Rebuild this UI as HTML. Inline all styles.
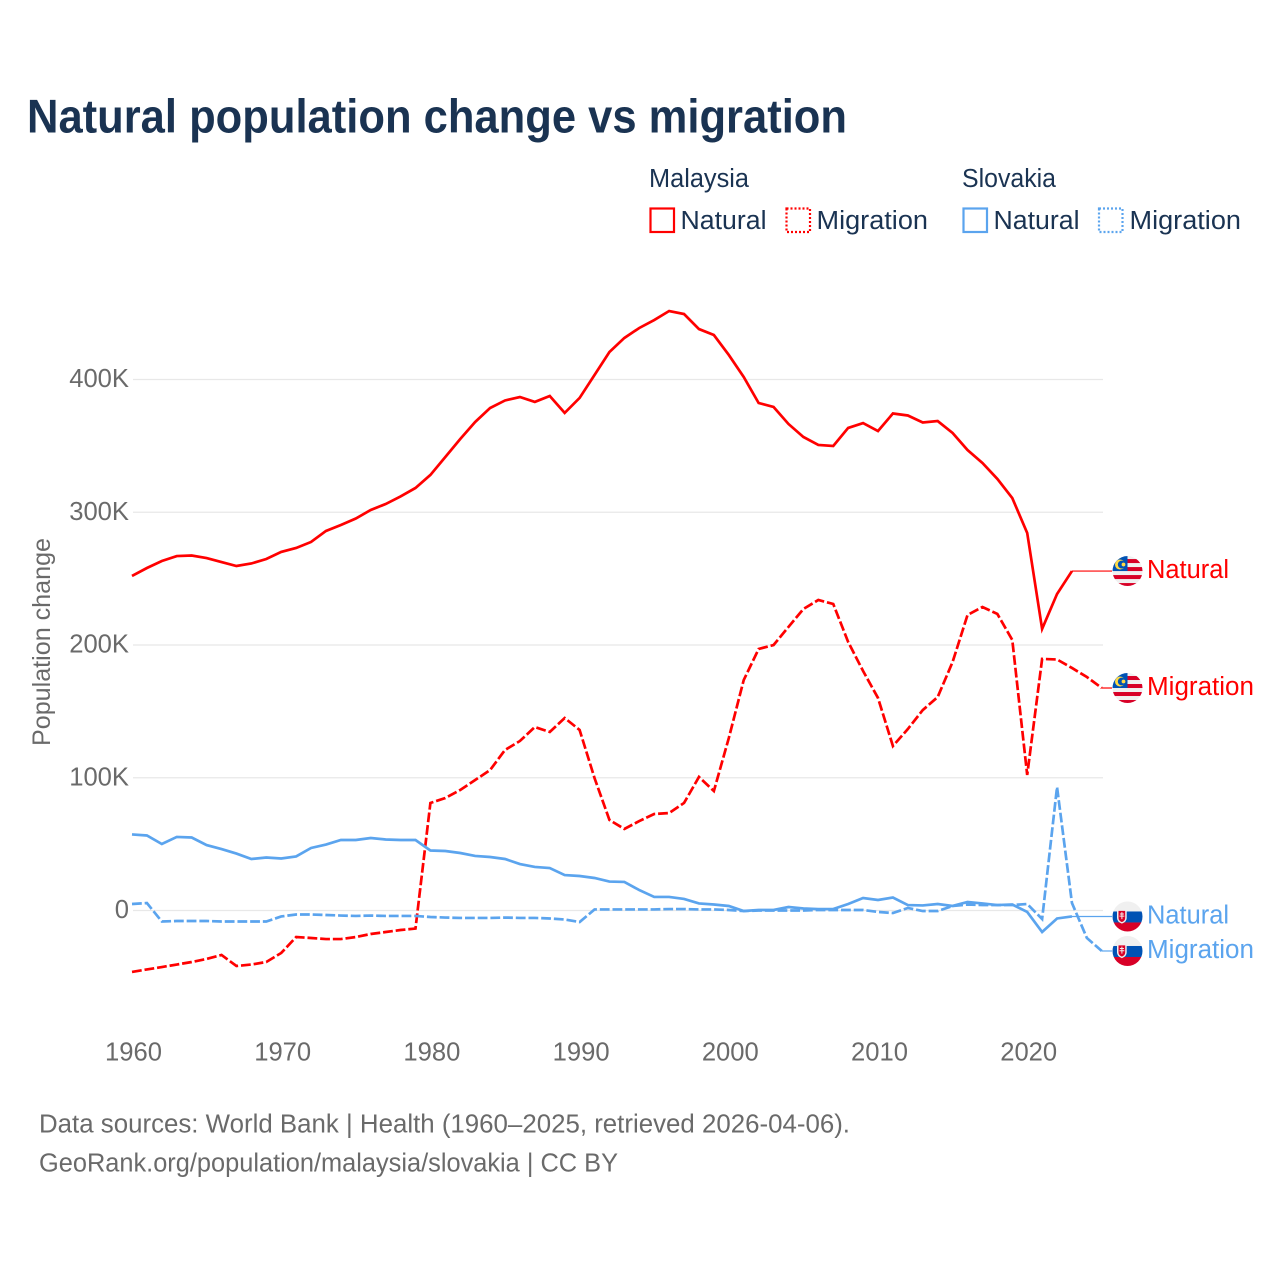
<!DOCTYPE html>
<html lang="en">
<head>
<meta charset="utf-8">
<title>Natural population change vs migration</title>
<style>
html,body{margin:0;padding:0;background:#fff;}
svg{display:block;font-family:"Liberation Sans",sans-serif;}
</style>
</head>
<body>
<svg id="chart" width="1280" height="1280" viewBox="0 0 1280 1280" xmlns="http://www.w3.org/2000/svg">
  <defs>
    <clipPath id="flag-clip"><circle cx="0" cy="0" r="15"/></clipPath>
    <g id="flag-my">
      <g clip-path="url(#flag-clip)">
        <rect x="-15" y="-15" width="30" height="30" fill="#f0f0f0"/>
        <rect x="0" y="-12" width="15" height="4" fill="#d80027"/>
        <rect x="0" y="-4" width="15" height="4" fill="#d80027"/>
        <rect x="-15" y="4" width="30" height="4" fill="#d80027"/>
        <rect x="-15" y="12" width="30" height="3" fill="#d80027"/>
        <rect x="-15" y="-15" width="15" height="15" fill="#0052b4"/>
        <circle cx="-7.5" cy="-6.5" r="5" fill="#ffda44"/>
        <circle cx="-5.8" cy="-6.5" r="3.9" fill="#0052b4"/>
        <circle cx="-4" cy="-6.5" r="1.9" fill="#ffda44"/>
      </g>
    </g>
    <g id="flag-sk">
      <g clip-path="url(#flag-clip)">
        <rect x="-15" y="-15" width="30" height="10" fill="#f0f0f0"/>
        <rect x="-15" y="-5" width="30" height="11" fill="#0052b4"/>
        <rect x="-15" y="6" width="30" height="9" fill="#d80027"/>
        <path d="M-10.5 -7 H-0.8 V1.5 Q-0.8 5.2 -5.6 7.2 Q-10.5 5.2 -10.5 1.5 Z" fill="#f0f0f0"/>
        <path d="M-9 -5.6 H-2.3 V1.5 Q-2.3 4.2 -5.6 5.6 Q-9 4.2 -9 1.5 Z" fill="#d80027"/>
        <path d="M-6.1 -4.4 H-5.1 V-3 H-3.6 V-2 H-5.1 V-0.8 H-3.2 V0.2 H-5.1 V2.6 H-6.1 V0.2 H-8 V-0.8 H-6.1 V-2 H-7.6 V-3 H-6.1 Z" fill="#f0f0f0"/>
      </g>
    </g>
  </defs>

  <text x="27" y="132.5" font-size="47" font-weight="700" fill="#1a3352" textLength="820" lengthAdjust="spacingAndGlyphs">Natural population change vs migration</text>

  <g font-size="25.5" fill="#1a3352">
    <text x="649" y="187" textLength="100" lengthAdjust="spacingAndGlyphs">Malaysia</text>
    <text x="962" y="187" textLength="94" lengthAdjust="spacingAndGlyphs">Slovakia</text>
    <rect x="650.5" y="208.5" width="23.5" height="23.5" fill="none" stroke="#ff0000" stroke-width="2.2"/>
    <text x="680.5" y="229" textLength="86" lengthAdjust="spacingAndGlyphs">Natural</text>
    <rect x="786.5" y="208.5" width="23.5" height="23.5" fill="none" stroke="#ff0000" stroke-width="2.2" stroke-dasharray="2 2"/>
    <text x="816.5" y="229" textLength="111.5" lengthAdjust="spacingAndGlyphs">Migration</text>
    <rect x="963.5" y="208.5" width="23.5" height="23.5" fill="none" stroke="#5ba4ee" stroke-width="2.2"/>
    <text x="993.5" y="229" textLength="86" lengthAdjust="spacingAndGlyphs">Natural</text>
    <rect x="1099" y="208.5" width="23.5" height="23.5" fill="none" stroke="#5ba4ee" stroke-width="2.2" stroke-dasharray="2 2"/>
    <text x="1129.5" y="229" textLength="111.5" lengthAdjust="spacingAndGlyphs">Migration</text>
  </g>

  <g id="grid"></g>
  <g id="y-ticks" font-size="25.6" fill="#6a6a6a" text-anchor="end"></g>
  <g id="x-ticks" font-size="25.6" fill="#6a6a6a" text-anchor="middle"></g>
  <text transform="translate(50 642) rotate(-90)" text-anchor="middle" font-size="25" fill="#6a6a6a" textLength="208" lengthAdjust="spacingAndGlyphs">Population change</text>

  <g id="series"></g>
  <g id="end-labels" font-size="25.5"></g>

  <g font-size="25.5" fill="#6a6a6a">
    <text x="39" y="1132.5" textLength="811" lengthAdjust="spacingAndGlyphs">Data sources: World Bank | Health (1960–2025, retrieved 2026-04-06).</text>
    <text x="39" y="1171.5" textLength="579" lengthAdjust="spacingAndGlyphs">GeoRank.org/population/malaysia/slovakia | CC BY</text>
  </g>
</svg>

<script>
const startYear = 1960;
const xTickYears = [1960, 1970, 1980, 1990, 2000, 2010, 2020];
const yTickValues = [0, 100, 200, 300, 400];
const yTickLabels = ["0", "100K", "200K", "300K", "400K"];

const malaysiaNatural = [252.0,258.0,263.3,267.0,267.4,265.5,262.5,259.5,261.4,264.8,270.1,273.1,277.6,285.9,290.4,295.3,301.7,306.2,311.9,318.3,328.1,341.6,355.2,368.0,378.5,384.2,386.8,383.1,387.6,374.8,386.1,403.4,420.7,431.3,438.8,444.8,451.6,449.3,438.0,433.5,418.5,401.9,382.3,379.3,366.5,356.7,350.7,349.9,363.5,367.2,361.2,374.4,372.9,367.6,368.7,359.7,346.9,337.1,325.1,310.7,284.4,212.1,238.4,255.7];
const malaysiaMigration = [-46.3,-44.4,-42.6,-40.7,-38.8,-36.5,-33.5,-41.8,-40.7,-38.8,-32.0,-20.0,-20.7,-21.5,-21.5,-20.0,-17.7,-16.2,-14.7,-13.6,81.0,84.7,90.8,98.3,105.8,120.9,127.7,138.2,134.5,145.0,136.0,99.8,68.2,61.4,67.4,72.7,73.4,81.0,100.6,90.0,129.9,173.6,197.0,200.0,213.6,227.1,233.9,230.9,202.3,180.4,160.1,123.9,136.7,151.0,160.8,187.2,222.6,228.6,223.4,203.8,102.1,189.5,189.1,182.7,175.9,167.6];
const slovakiaNatural = [57.3,56.5,50.1,55.4,55.0,49.3,46.3,42.9,38.8,39.9,39.2,40.7,47.1,49.7,53.1,53.1,54.6,53.5,53.1,53.1,45.2,44.8,43.3,41.1,40.3,38.8,35.0,32.8,32.0,26.7,26.0,24.5,21.8,21.5,15.4,10.2,10.2,8.7,5.3,4.5,3.4,-0.4,0.4,0.4,2.6,1.5,1.1,1.1,4.9,9.4,7.9,9.8,4.1,3.8,4.9,3.4,6.4,5.3,4.1,4.5,-1.1,-16.2,-6.0,-4.5];
const slovakiaMigration = [4.9,5.6,-8.3,-7.9,-7.9,-7.9,-8.3,-8.3,-8.3,-8.3,-4.5,-3.0,-3.0,-3.4,-3.8,-4.1,-3.8,-4.1,-4.1,-4.1,-4.9,-5.3,-5.6,-5.6,-5.6,-5.3,-5.6,-5.6,-6.0,-6.8,-8.7,0.8,0.8,0.8,0.8,0.8,1.1,1.1,0.8,0.8,0.4,-0.4,0,0,0,0,0.4,0.4,0.4,0.4,-1.1,-1.9,1.9,-0.4,-0.4,3.4,4.5,4.1,4.1,4.1,4.9,-6.4,93.0,5.6,-20.7,-30.5];

const SVG_NS = "http://www.w3.org/2000/svg";
const RED = "#ff0000";
const BLUE = "#5ba4ee";
const xTick = year => 133.5 + (year - 1960) * 14.92;
const x = year => 132 + (year - 1960) * 14.92;
const y = v => 910.5 - v * 1.3275;
const make = (tag, parent) => {
  const el = document.createElementNS(SVG_NS, tag);
  parent.appendChild(el);
  return el;
};

const gridGroup = document.getElementById("grid");
const yTickGroup = document.getElementById("y-ticks");
yTickValues.forEach((v, i) => {
  const line = make("line", gridGroup);
  
  
  line.setAttribute("x1", 133);
  line.setAttribute("x2", 1103);
  line.setAttribute("y1", y(v));
  line.setAttribute("y2", y(v));
  line.setAttribute("stroke", "#e8e8e8");
  line.setAttribute("stroke-width", 1.3);
  const t = make("text", yTickGroup);
  
  
  t.setAttribute("x", 129);
  t.setAttribute("y", y(v) + 7.5);
  t.textContent = yTickLabels[i];
});

const xTickGroup = document.getElementById("x-ticks");
xTickYears.forEach(year => {
  const t = make("text", xTickGroup);
  
  
  t.setAttribute("x", xTick(year));
  t.setAttribute("y", 1060.5);
  t.textContent = String(year);
});

const seriesGroup = document.getElementById("series");
const labelGroup = document.getElementById("end-labels");

function drawSeries(values, color, dashed, flagId, label, seriesName) {
  const line = make("polyline", seriesGroup);
  
  
  line.setAttribute("points", values.map((v, i) => x(startYear + i).toFixed(2) + "," + y(v).toFixed(2)).join(" "));
  line.setAttribute("fill", "none");
  line.setAttribute("stroke", color);
  line.setAttribute("stroke-width", 2.7);
  line.setAttribute("stroke-linejoin", "miter");
  if (dashed) line.setAttribute("stroke-dasharray", "9.8 2.9");

  const last = values[values.length - 1];
  const lastX = x(startYear + values.length - 1);
  const lastY = y(last);

  const connector = make("line", seriesGroup);
  
  
  connector.setAttribute("x1", lastX);
  connector.setAttribute("x2", 1112);
  connector.setAttribute("y1", lastY);
  connector.setAttribute("y2", lastY);
  connector.setAttribute("stroke", color);
  connector.setAttribute("stroke-width", 1.2);

  const flag = make("use", labelGroup);
  
  
  flag.setAttribute("href", "#" + flagId);
  flag.setAttribute("x", 1127.5);
  flag.setAttribute("y", lastY);

  const text = make("text", labelGroup);
  
  
  text.setAttribute("x", 1147);
  text.setAttribute("y", lastY + 7);
  text.setAttribute("fill", color);
  text.setAttribute("textLength", label === "Natural" ? 82 : 107);
  text.setAttribute("lengthAdjust", "spacingAndGlyphs");
  text.textContent = label;
}

drawSeries(malaysiaNatural, RED, false, "flag-my", "Natural", "malaysia-natural-line");
drawSeries(malaysiaMigration, RED, true, "flag-my", "Migration", "malaysia-migration-line");
drawSeries(slovakiaNatural, BLUE, false, "flag-sk", "Natural", "slovakia-natural-line");
drawSeries(slovakiaMigration, BLUE, true, "flag-sk", "Migration", "slovakia-migration-line");
</script>
</body>
</html>
